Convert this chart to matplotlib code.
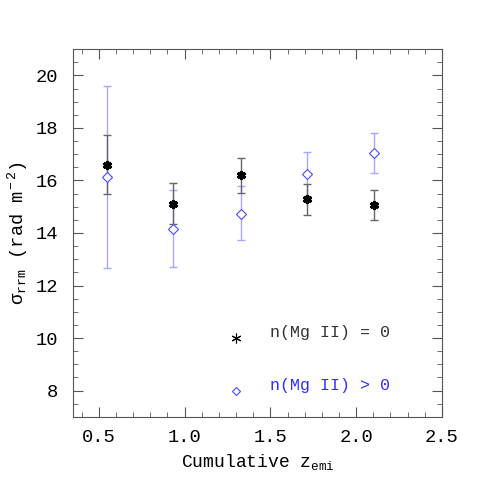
import matplotlib
matplotlib.use("Agg")
import matplotlib.pyplot as plt
from matplotlib.ticker import MultipleLocator

plt.rcParams['font.family'] = ['Liberation Mono', 'DejaVu Sans']
plt.rcParams['mathtext.fontset'] = 'custom'
plt.rcParams['mathtext.rm'] = 'Liberation Mono'
plt.rcParams['mathtext.it'] = 'Liberation Mono'

# cumulative z_emi bins
z_none = [0.545, 0.933, 1.327, 1.716, 2.106]
z_some = [0.545, 0.933, 1.327, 1.716, 2.106]

# sigma_rrm for sightlines without Mg II absorbers
sig_none = [16.60, 15.12, 16.20, 15.29, 15.08]
err_none = [1.13, 0.78, 0.67, 0.59, 0.57]

# sigma_rrm for sightlines with Mg II absorbers
sig_some = [16.13, 14.16, 14.74, 16.24, 17.06]
err_some_lo = [3.46, 1.46, 1.01, 0.84, 0.76]
err_some_hi = [3.47, 1.47, 1.04, 0.84, 0.76]

labels = ['n(Mg II) = 0', 'n(Mg II) > 0']

fig = plt.figure(figsize=(4.91, 4.91), dpi=100)
ax = fig.add_axes([0.149, 0.151, 0.751, 0.749])

ax.errorbar(z_some, sig_some, yerr=[err_some_lo, err_some_hi], fmt='none',
            ecolor='#a8a8ff', elinewidth=1.0, capsize=2.7, capthick=1.0, zorder=2)
ax.errorbar(z_none, sig_none, yerr=err_none, fmt='none',
            ecolor='#666666', elinewidth=1.0, capsize=2.7, capthick=1.0, zorder=2)
ax.plot(z_some, sig_some, linestyle='none', marker='D', markersize=4.8,
        markerfacecolor='white', markeredgecolor='#4a4aff', markeredgewidth=0.8, zorder=3)
ax.plot(z_none, sig_none, linestyle='none', marker=(6, 2, 0), markersize=6.5,
        markeredgecolor='black', markeredgewidth=2.2, zorder=4)

# hand-made legend inside the axes
ax.plot([1.30], [10.0], linestyle='none', marker=(6, 2, 0), markersize=7,
        markeredgecolor='black', markeredgewidth=0.8)
ax.plot([1.30], [8.0], linestyle='none', marker='D', markersize=4.5,
        markerfacecolor='white', markeredgecolor='#4a4aff', markeredgewidth=0.8)
ax.text(1.50, 10.2, labels[0], color='#333333', fontsize=12, va='center')
ax.text(1.50, 8.2, labels[1], color='#3030ff', fontsize=12, va='center')

ax.set_xlim(0.35, 2.5)
ax.set_ylim(7, 21)
ax.xaxis.set_major_locator(MultipleLocator(0.5))
ax.xaxis.set_minor_locator(MultipleLocator(0.1))
ax.yaxis.set_major_locator(MultipleLocator(2))
ax.yaxis.set_minor_locator(MultipleLocator(0.5))
ax.xaxis.set_major_formatter(plt.FuncFormatter(lambda v, p: f"{v:.1f}"))
ax.tick_params(which='both', direction='in', top=True, right=True, color='#555555')
ax.tick_params(which='major', length=7, labelsize=13.5, pad=9)
ax.tick_params(axis='y', which='major', pad=11)
ax.tick_params(which='minor', length=3.5)
for s in ax.spines.values():
    s.set_color('#555555')

ax.set_xlabel(r'Cumulative z$_{\rm emi}$', fontsize=13)
ax.set_ylabel(r'$\sigma_{\rm rrm}$ (rad m$^{\rm -2}$)', fontsize=13.5)

fig.savefig('out.png', dpi=100)
